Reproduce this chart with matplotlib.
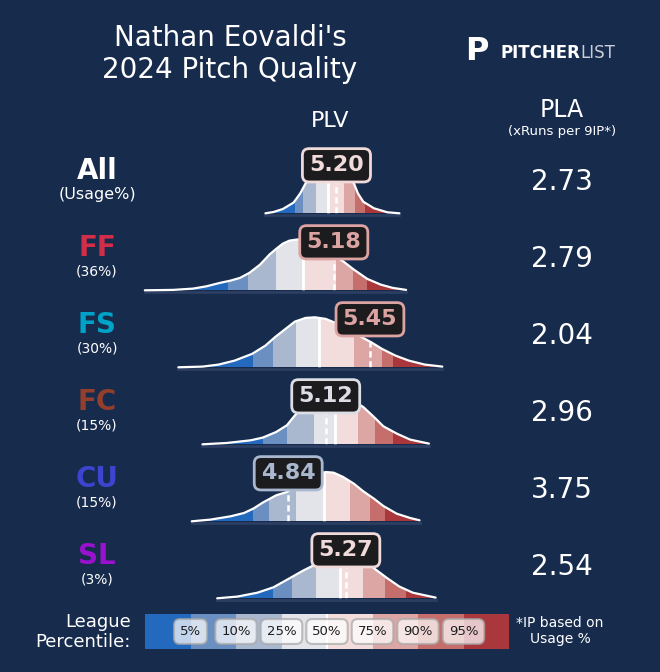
import matplotlib
matplotlib.use('Agg')
import matplotlib.pyplot as plt
import numpy as np
from matplotlib.patches import Polygon, Rectangle

# ---- data ----
pitches = ['All', 'FF', 'FS', 'FC', 'CU', 'SL']
usage = ['(Usage%)', '(36%)', '(30%)', '(15%)', '(15%)', '(3%)']
plv = [5.20, 5.18, 5.45, 5.12, 4.84, 5.27]
pla = [2.73, 2.79, 2.04, 2.96, 3.75, 2.54]
pitch_colors = ['white', '#d22d49', '#00a3c8', '#933f2c', '#3d44cf', '#9a12d0']
value_colors = ['#f0dada', '#dba3a2', '#dba3a2', '#dcdde5', '#a9b7cf', '#f0dada']

# league PLV percentiles: 5, 10, 25, 50, 75, 90, 95
pct_labels = ['5%', '10%', '25%', '50%', '75%', '90%', '95%']
pct_all = [4.89, 4.95, 5.05, 5.14, 5.26, 5.34, 5.41]
pct_ff = [4.39, 4.54, 4.75, 4.95, 5.20, 5.32, 5.43]
pct_fs = [4.58, 4.73, 4.90, 5.07, 5.33, 5.54, 5.62]
pct_fc = [4.65, 4.83, 5.03, 5.19, 5.36, 5.49, 5.62]
pct_cu = [4.58, 4.70, 4.90, 5.11, 5.30, 5.45, 5.56]
pct_sl = [4.73, 4.87, 5.05, 5.23, 5.40, 5.56, 5.72]

# league PLV density curves (x = PLV, h = scaled density)
x_all = [4.67, 4.73, 4.80, 4.88, 4.93, 4.97, 5.04, 5.09, 5.14, 5.20, 5.26, 5.33, 5.36, 5.40, 5.48, 5.58, 5.67]
h_all = [0, 1.3, 4.3, 10.7, 20, 30, 42, 48, 50, 48, 40, 30, 20, 11.6, 5, 1, 0]
x_ff = [3.77, 3.98, 4.13, 4.23, 4.33, 4.41, 4.48, 4.55, 4.63, 4.70, 4.75, 4.80,
        4.85, 4.90, 4.93, 5.00, 5.08, 5.15, 5.25, 5.33, 5.43, 5.53, 5.62, 5.72]
h_ff = [0, 0.4, 1.7, 4, 7.4, 9.7, 12.4, 17.4, 25.7, 35.7, 41.4, 46.7,
        49.7, 50.7, 51, 49, 44, 37, 29, 20.7, 11.4, 5.7, 2.4, 0.4]
x_fs = [4.02, 4.20, 4.32, 4.44, 4.57, 4.67, 4.74, 4.82, 4.89, 4.97, 5.04,
        5.12, 5.20, 5.26, 5.32, 5.39, 5.46, 5.54, 5.64, 5.74, 5.86, 5.99]
h_fs = [0, 0.7, 2.7, 6.7, 13.4, 21.7, 30, 38.4, 45.7, 49.4, 50,
        48.4, 44, 39.5, 35, 30, 25, 18.4, 11.7, 6.7, 2.7, 0.7]
x_fc = [4.20, 4.38, 4.56, 4.65, 4.75, 4.83, 4.88, 4.95, 5.03, 5.10,
        5.17, 5.25, 5.32, 5.40, 5.48, 5.55, 5.65, 5.75, 5.89]
h_fc = [0, 1.3, 4, 6.7, 12.3, 19, 27.3, 38, 45, 49,
        50, 48, 44, 37.3, 27.3, 18, 10.7, 4.7, 0.7]
x_cu = [4.12, 4.26, 4.41, 4.51, 4.58, 4.65, 4.75, 4.83, 4.90, 4.98, 5.05,
        5.12, 5.18, 5.25, 5.33, 5.40, 5.48, 5.55, 5.65, 5.75, 5.82]
h_cu = [0, 1.7, 5, 8.3, 12.7, 18.7, 26, 29.3, 36, 42, 47,
        49.3, 48.6, 44.3, 37.6, 30, 22.6, 15.3, 7.6, 3.3, 1]
x_sl = [4.31, 4.46, 4.61, 4.73, 4.85, 4.95, 5.03, 5.10, 5.17,
        5.25, 5.32, 5.40, 5.48, 5.58, 5.67, 5.77, 5.94]
h_sl = [0, 1.7, 5.6, 11, 20, 27.6, 33, 41, 48,
        50, 47, 39, 30, 20, 11.7, 5.6, 0.7]

pcts = [pct_all, pct_ff, pct_fs, pct_fc, pct_cu, pct_sl]
curves_x = [x_all, x_ff, x_fs, x_fc, x_cu, x_sl]
curves_h = [h_all, h_ff, h_fs, h_fc, h_cu, h_sl]

# ---- style ----
bg = '#172b4d'
band_colors = ['#2369bd', '#6a8fc0', '#a9b7cf', '#e3e4ea',
               '#f3dcdc', '#dca6a4', '#c56e6c', '#a9373b']
W, H = 660, 672
ROW = 77


def fx(x):
    return x / W


def fy(y):
    return 1 - y / H


fig = plt.figure(figsize=(6.6, 6.72), dpi=100)
fig.patch.set_facecolor(bg)

# titles
fig.text(fx(230), fy(54), "Nathan Eovaldi's\n2024 Pitch Quality", ha='center', va='center',
         fontsize=20, color='white', linespacing=1.15)
fig.text(fx(477), fy(52), 'P', ha='center', va='center', fontsize=23, fontweight='heavy', color='white')
fig.text(fx(500), fy(53), 'PITCHER', ha='left', va='center', fontsize=12, fontweight='bold', color='white')
fig.text(fx(580), fy(53), 'LIST', ha='left', va='center', fontsize=12, color='#c9ced8')
fig.text(fx(330), fy(121), 'PLV', ha='center', va='center', fontsize=16, color='white')
fig.text(fx(562), fy(110), 'PLA', ha='center', va='center', fontsize=17, color='white')
fig.text(fx(562), fy(131), '(xRuns per 9IP*)', ha='center', va='center', fontsize=9.5, color='white')

# ridge axes (x in PLV, y in scaled density with a row offset)
ax = fig.add_axes([fx(140), fy(605), (445 - 140) / W, (605 - 140) / H])
ax.set_facecolor(bg)
ax.set_xlim(3.734, 6.010)
ax.set_ylim(-391.7, 73.3)
ax.axis('off')

for k, name in enumerate(pitches):
    base = -ROW * k
    xs = np.array(curves_x[k])
    hs = np.array(curves_h[k])
    pct = pcts[k]

    verts = list(zip(xs, base + hs)) + [(xs[-1], base), (xs[0], base)]
    shape = Polygon(verts, closed=True, fc='none', ec='none')
    ax.add_patch(shape)

    edges = [xs[0]] + pct + [xs[-1]]
    for j in range(8):
        r = Rectangle((edges[j], base), edges[j + 1] - edges[j], 70,
                      fc=band_colors[j], ec='none', lw=0)
        ax.add_patch(r)
        r.set_clip_path(shape)

    med, = ax.plot([pct[3], pct[3]], [base, base + 70], color='white', lw=2)
    med.set_clip_path(shape)
    dsh, = ax.plot([plv[k], plv[k]], [base, base + 70], color='white', lw=1.8,
                   ls=(0, (2.5, 1.5)))
    dsh.set_clip_path(shape)

    ax.plot([xs[0], xs[-1]], [base - 1.2, base - 1.2], color='#2c3f63', lw=2, zorder=1)
    ax.plot(xs, base + hs, color='white', lw=1.6, solid_capstyle='round',
            solid_joinstyle='round', zorder=4)

    ax.text(plv[k], base + 48, f'{plv[k]:.2f}', ha='center', va='center', fontsize=16,
            fontweight='bold', color=value_colors[k], zorder=6, clip_on=False,
            bbox=dict(boxstyle='round,pad=0.3', fc='#1c1c1e', ec=value_colors[k], lw=2))

    # left labels and PLA values (figure pixels)
    by = 213.3 + ROW * k
    fig.text(fx(97), fy(by - 42), name, ha='center', va='center', fontsize=20,
             fontweight='bold', color=pitch_colors[k])
    fig.text(fx(97), fy(by - 19), usage[k], ha='center', va='center',
             fontsize=11.5 if k == 0 else 10, color='white')
    fig.text(fx(562), fy(by - 31), f'{pla[k]:.2f}', ha='center', va='center',
             fontsize=20, color='white')

# percentile legend bar
lax = fig.add_axes([fx(145), fy(649), 364 / W, 35 / H])
lax.set_xlim(0, 8)
lax.set_ylim(0, 1)
lax.axis('off')
for j in range(8):
    lax.axvspan(j, j + 1, color=band_colors[j], lw=0)
lax.axvline(4, color='white', lw=1.5)
for j, lab in enumerate(pct_labels):
    lax.text(j + 1, 0.5, lab, ha='center', va='center', fontsize=9.5, color='#1e1e1e',
             bbox=dict(boxstyle='round,pad=0.45', fc='white', alpha=0.72, ec='#a8a8a8', lw=1.5))

fig.text(fx(131), fy(632), 'League\nPercentile:', ha='right', va='center', fontsize=13,
         color='white', multialignment='right', linespacing=1.1)
fig.text(fx(560), fy(631), '*IP based on\nUsage %', ha='center', va='center', fontsize=10,
         color='white', linespacing=1.1)

fig.savefig('out.png', dpi=100, facecolor=bg)
